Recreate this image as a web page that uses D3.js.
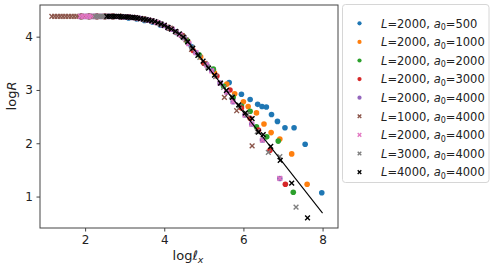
<!DOCTYPE html>
<html>
<head>
<meta charset="utf-8">
<script src="https://cdn.jsdelivr.net/npm/d3@7/dist/d3.min.js"></script>
<style>
  body { margin: 0; background: #fff; }
  svg text { font-family: "DejaVu Sans", sans-serif; fill: #222; }
</style>
</head>
<body>
<svg id="chart" width="496" height="271"></svg>
<script>
// --- DATA (log l_x, log R) ---
const L2000a500 = [[1.9,4.38],[2.1,4.38],[2.3,4.38],[2.5,4.38],[2.7,4.375],[2.9,4.365],[3.1,4.35],[3.3,4.33],[3.5,4.305],[3.7,4.275],[3.9,4.22],[4.1,4.16],[4.3,4.08],[4.45,4.01],
    [4.69,3.81],[5.64,3.14],[5.95,2.92],[6.17,2.82],[6.36,2.73],[6.47,2.69],[6.58,2.68],[6.71,2.54],[6.86,2.41],[7.05,2.29],[7.28,2.29],[7.56,1.98],[7.98,1.07]];
const L2000a1000 = [[1.9,4.38],[2.1,4.38],[2.3,4.38],[2.5,4.38],[2.7,4.38],[2.9,4.375],[3.1,4.366],[3.3,4.35],[3.5,4.325],[3.7,4.295],[3.9,4.24],[4.1,4.17],[4.3,4.09],[4.45,4.02],
    [4.6,3.90],[4.92,3.62],[5.27,3.32],[5.58,3.11],[5.78,2.93],[6.00,2.78],[6.12,2.69],[6.33,2.57],[6.52,2.36],[6.70,2.20],[6.92,2.08],[7.22,1.80],[7.61,1.23]];
const L2000a2000 = [[1.9,4.38],[2.1,4.38],[2.3,4.38],[2.5,4.38],[2.7,4.38],[2.9,4.375],[3.1,4.366],[3.3,4.35],[3.5,4.325],[3.7,4.295],[3.9,4.24],[4.1,4.17],[4.3,4.09],[4.45,4.02],
    [4.57,3.93],[4.88,3.66],[5.24,3.39],[5.50,3.07],[5.74,2.86],[5.95,2.70],[6.17,2.60],[6.33,2.31],[6.59,2.12],[6.88,2.04],[7.26,1.08]];
const L2000a3000 = [[1.9,4.38],[2.1,4.38],[2.3,4.38],[2.5,4.38],[2.7,4.38],[2.9,4.375],[3.1,4.366],[3.3,4.35],[3.5,4.325],[3.7,4.295],[3.9,4.24],[4.1,4.17],[4.3,4.09],[4.45,4.02],
    [4.73,3.74],[5.0,3.50],[5.33,3.26],[5.66,3.00],[5.95,2.66],[6.17,2.47],[6.38,2.25],[6.67,1.87],[7.06,1.23]];
const L2000a4000 = [[1.88,4.38],[1.95,4.38],[2.02,4.38],[2.09,4.38],[2.16,4.38],[2.23,4.38],[2.3,4.38],[2.4,4.38],[2.5,4.38],[2.6,4.38],[2.7,4.38],[2.8,4.378],[2.9,4.375],[3.0,4.37],[3.1,4.366],[3.2,4.36],[3.3,4.35],[3.4,4.34],[3.5,4.325],[3.6,4.31],[3.7,4.295],[3.8,4.27],[3.9,4.24],[4.0,4.21],[4.1,4.17],[4.2,4.14],[4.3,4.09],[4.4,4.04],[4.5,3.98],
    [4.62,3.87],[4.8,3.70],[5.07,3.47],[5.2,3.36],[5.41,3.13],[5.58,2.96],[5.74,2.78],[6.04,2.53],[6.21,2.36],[6.48,2.06],[6.92,1.34]];
const L1000a4000 = [[1.16,4.38],[1.23,4.38],[1.30,4.38],[1.37,4.38],[1.44,4.38],[1.51,4.38],[1.58,4.38],[1.65,4.38],[1.72,4.38],[1.79,4.38],[1.86,4.38],[2.0,4.38],[2.2,4.38],[2.4,4.38],[2.6,4.38],[2.8,4.378],[3.0,4.37],[3.2,4.36],[3.4,4.34],[3.6,4.31],[3.8,4.27],[4.0,4.21],[4.15,4.16],[4.3,4.09],[4.45,4.02],[4.55,3.94],
    [4.69,3.76],[5.03,3.50],[5.52,2.86],[5.83,2.61],[6.22,1.95]];
const L3000a4000 = [[2.25,4.38],[2.31,4.38],[2.37,4.38],[2.43,4.38],[2.49,4.38],[2.55,4.38],[2.7,4.38],[2.9,4.375],[3.1,4.366],[3.3,4.35],[3.5,4.325],[3.7,4.295],[3.9,4.24],[4.1,4.17],[4.3,4.09],[4.5,3.98],[4.7,3.80],[4.9,3.61],[5.1,3.43],[5.3,3.25],[5.5,3.05],[5.7,2.88],[5.9,2.70],[6.1,2.54],
    [6.35,2.22],[6.63,1.83],[6.92,1.75],[7.33,0.80]];
const L4000a4000 = [[2.55,4.38],[2.61,4.38],[2.67,4.38],[2.73,4.38],[2.79,4.38],[2.85,4.38],[2.91,4.375],[2.97,4.372],[3.03,4.37],[3.09,4.366],[3.15,4.363],[3.21,4.36],[3.27,4.355],[3.33,4.35],[3.40,4.34],[3.47,4.33],[3.54,4.32],[3.61,4.31],[3.68,4.295],[3.76,4.28],[3.84,4.26],[3.92,4.235],[4.00,4.21],[4.09,4.175],[4.18,4.14],[4.28,4.10],[4.38,4.05],[4.48,3.99],
    [4.59,3.90],[4.72,3.78],[4.85,3.65],[4.98,3.54],[5.12,3.41],[5.27,3.28],[5.42,3.13],[5.57,2.99],[5.72,2.86],[5.88,2.72],[6.05,2.57],[6.22,2.46],[6.38,2.21],[6.50,2.16],[6.69,1.94],[6.93,1.68],[7.22,1.25],[7.62,0.60]];
const fitX = [4.5, 8.0];
const fitY = [4.0, 0.69];

const seriesList = [
    { data: L2000a500,  color: '#1f77b4', marker: 'circle', L: 2000, a0: 500 },
    { data: L2000a1000, color: '#ff7f0e', marker: 'circle', L: 2000, a0: 1000 },
    { data: L2000a2000, color: '#2ca02c', marker: 'circle', L: 2000, a0: 2000 },
    { data: L2000a3000, color: '#d62728', marker: 'circle', L: 2000, a0: 3000 },
    { data: L2000a4000, color: '#9467bd', marker: 'circle', L: 2000, a0: 4000 },
    { data: L1000a4000, color: '#8c564b', marker: 'cross',  L: 1000, a0: 4000 },
    { data: L2000a4000, color: '#e377c2', marker: 'cross',  L: 2000, a0: 4000 },
    { data: L3000a4000, color: '#7f7f7f', marker: 'cross',  L: 3000, a0: 4000 },
    { data: L4000a4000, color: '#000000', marker: 'cross',  L: 4000, a0: 4000 }
];

// --- SETUP ---
const svg = d3.select('#chart');
const plot = { left: 40, right: 338, top: 5, bottom: 228 };
const x = d3.scaleLinear().domain([0.86, 8.39]).range([plot.left, plot.right]);
const y = d3.scaleLinear().domain([0.41, 4.594]).range([plot.bottom, plot.top]);

const crossPath = s => `M${-s},${-s}L${s},${s}M${-s},${s}L${s},${-s}`;

function drawMarker(sel, d, r) {
    if (d.marker === 'circle') {
        sel.append('circle').attr('r', r).attr('fill', d.color);
    } else {
        sel.append('path').attr('d', crossPath(r * 0.85)).attr('fill', 'none')
            .attr('stroke', d.color).attr('stroke-width', 1.4);
    }
}

// --- AXES ---
const xAxis = svg.append('g').attr('transform', `translate(0,${plot.bottom})`)
    .call(d3.axisBottom(x).tickValues([2, 4, 6, 8]).tickSize(3.5).tickPadding(3.5).tickFormat(d3.format('d')));
const yAxis = svg.append('g').attr('transform', `translate(${plot.left},0)`)
    .call(d3.axisLeft(y).tickValues([1, 2, 3, 4]).tickSize(3.5).tickPadding(3.5).tickFormat(d3.format('d')));
[xAxis, yAxis].forEach(a => {
    a.select('.domain').remove();
    a.selectAll('.tick line').attr('stroke', '#444');
    a.selectAll('.tick text').style('font-family', '"DejaVu Sans", sans-serif').style('font-size', '12px').attr('fill', '#222');
});

// --- POINTS ---
const pointsGroup = svg.append('g');
seriesList.forEach(s => {
    pointsGroup.append('g').selectAll('g').data(s.data).join('g')
        .attr('transform', d => `translate(${x(d[0])},${y(d[1])})`)
        .each(function() { drawMarker(d3.select(this), s, 2.8); });
});

// fit line
svg.append('path')
    .datum(fitX.map((v, i) => [v, fitY[i]]))
    .attr('d', d3.line().x(d => x(d[0])).y(d => y(d[1])))
    .attr('fill', 'none').attr('stroke', '#000').attr('stroke-width', 1.1);

// frame
svg.append('rect').attr('x', plot.left).attr('y', plot.top)
    .attr('width', plot.right - plot.left).attr('height', plot.bottom - plot.top)
    .attr('fill', 'none').attr('stroke', '#444').attr('stroke-width', 1);

// --- AXIS LABELS ---
const xl = svg.append('text').attr('x', 188).attr('y', 260).attr('text-anchor', 'middle').style('font-size', '13px');
xl.append('tspan').text('log');
xl.append('tspan').attr('font-style', 'italic').text('ℓ');
xl.append('tspan').attr('font-style', 'italic').attr('dy', 3).style('font-size', '9.5px').text('x');

const yl = svg.append('text').attr('transform', 'translate(16,96) rotate(-90)').attr('text-anchor', 'middle').style('font-size', '13px');
yl.append('tspan').text('log');
yl.append('tspan').attr('font-style', 'italic').text('R');

// --- LEGEND ---
const legend = svg.append('g');
legend.append('rect').attr('x', 342.5).attr('y', 4.5).attr('width', 146.5).attr('height', 178)
    .attr('rx', 3).attr('fill', '#fff').attr('stroke', '#d6d6d6').attr('stroke-width', 1);
const rows = legend.selectAll('.legend-item').data(seriesList).join('g')
    .attr('class', 'legend-item')
    .attr('transform', (d, i) => `translate(359.5,${23.3 + i * 18.6})`);
rows.each(function(d) { drawMarker(d3.select(this), d, 2.1); });
const lt = rows.append('text').attr('x', 21.5).attr('y', 4.2).style('font-size', '11.5px');
lt.append('tspan').attr('font-style', 'italic').text('L');
lt.append('tspan').text(d => `=${d.L}, `);
lt.append('tspan').attr('font-style', 'italic').text('a');
lt.append('tspan').attr('dy', 2.5).style('font-size', '8px').text('0');
lt.append('tspan').attr('dy', -2.5).text(d => `=${d.a0}`);
</script>
</body>
</html>
